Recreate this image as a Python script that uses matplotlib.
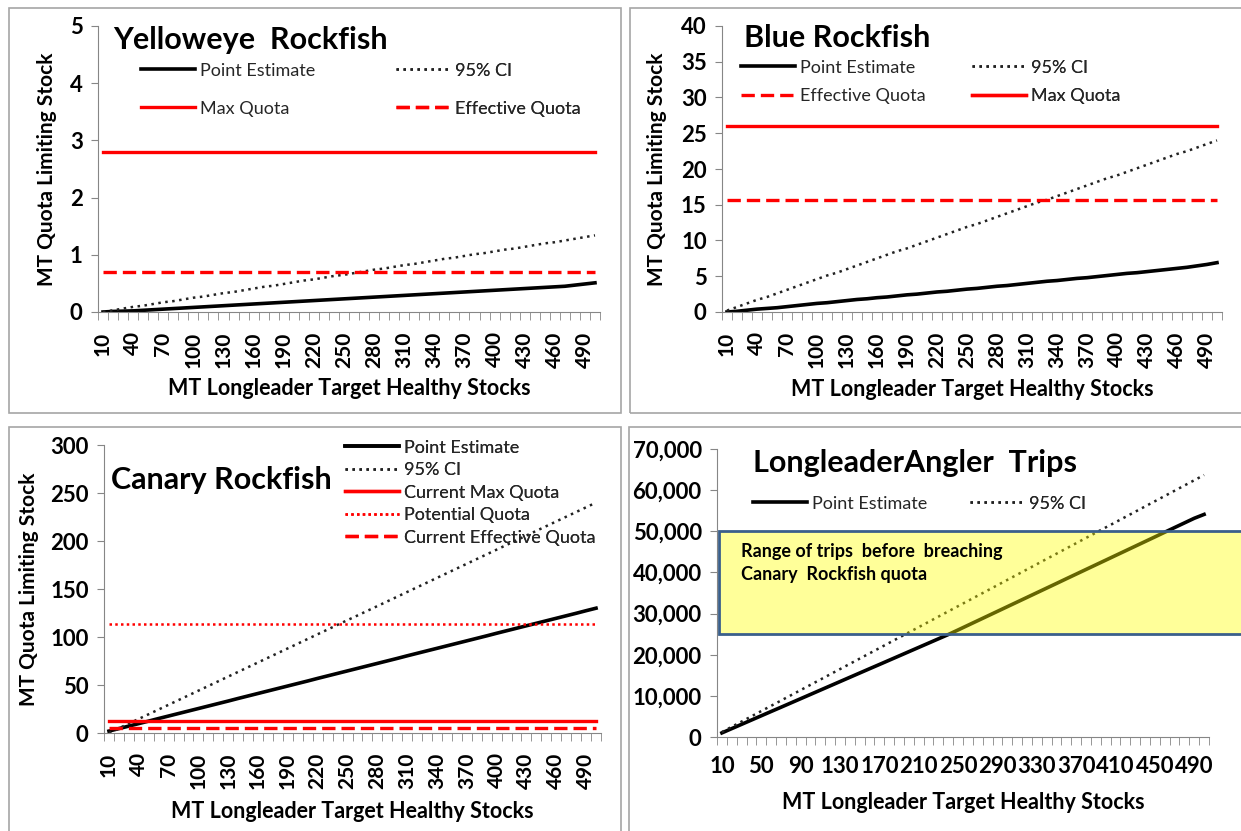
import matplotlib
matplotlib.use('Agg')
import matplotlib.pyplot as plt
import matplotlib.transforms as mtransforms
from matplotlib.patches import Rectangle
from matplotlib.lines import Line2D
from matplotlib.ticker import FuncFormatter

plt.rcParams['font.family'] = ['Lato', 'DejaVu Sans']

# x categories: MT of longleader target healthy stocks
categories = list(range(10, 510, 10))

# Yelloweye rockfish (MT)
yelloweye_point = [0.00, 0.01, 0.015, 0.02, 0.03, 0.04, 0.05, 0.06, 0.07, 0.08,
                   0.09, 0.10, 0.11, 0.12, 0.13, 0.14, 0.15, 0.16, 0.17, 0.18,
                   0.19, 0.20, 0.21, 0.22, 0.23, 0.24, 0.25, 0.26, 0.27, 0.28,
                   0.29, 0.30, 0.31, 0.32, 0.33, 0.34, 0.35, 0.36, 0.37, 0.38,
                   0.39, 0.40, 0.41, 0.42, 0.43, 0.44, 0.45, 0.47, 0.49, 0.51]
yelloweye_ci = [0.00, 0.03, 0.06, 0.09, 0.11, 0.14, 0.17, 0.19, 0.22, 0.25,
                0.27, 0.30, 0.33, 0.35, 0.38, 0.41, 0.44, 0.46, 0.49, 0.52,
                0.55, 0.57, 0.60, 0.63, 0.65, 0.68, 0.71, 0.74, 0.76, 0.79,
                0.82, 0.84, 0.87, 0.90, 0.93, 0.95, 0.98, 1.01, 1.03, 1.06,
                1.09, 1.11, 1.14, 1.17, 1.20, 1.22, 1.25, 1.28, 1.31, 1.34]
yelloweye_max_quota = 2.8
yelloweye_effective_quota = 0.7

# Blue rockfish (MT)
blue_point = [0.0, 0.1, 0.25, 0.4, 0.5, 0.6, 0.75, 0.9, 1.05, 1.2,
              1.3, 1.45, 1.6, 1.75, 1.85, 2.0, 2.1, 2.25, 2.4, 2.5,
              2.65, 2.8, 2.9, 3.05, 3.2, 3.3, 3.45, 3.6, 3.7, 3.85,
              4.0, 4.15, 4.3, 4.4, 4.55, 4.7, 4.8, 4.95, 5.1, 5.25,
              5.4, 5.5, 5.65, 5.8, 5.95, 6.1, 6.25, 6.45, 6.65, 6.9]
blue_ci = [0.2, 0.7, 1.2, 1.7, 2.1, 2.6, 3.1, 3.6, 4.1, 4.6,
           5.1, 5.5, 6.0, 6.5, 7.0, 7.5, 8.0, 8.5, 8.9, 9.4,
           9.9, 10.4, 10.9, 11.4, 11.9, 12.3, 12.8, 13.3, 13.8, 14.3,
           14.8, 15.3, 15.7, 16.2, 16.7, 17.2, 17.7, 18.2, 18.7, 19.1,
           19.6, 20.1, 20.6, 21.1, 21.6, 22.1, 22.5, 23.0, 23.5, 24.0]
blue_effective_quota = 15.7
blue_max_quota = 26.0

# Canary rockfish (MT)
canary_point = [2.0, 4.6, 7.2, 9.8, 12.4, 15.1, 17.7, 20.3, 22.9, 25.5,
                28.1, 30.7, 33.3, 36.0, 38.6, 41.2, 43.8, 46.4, 49.0, 51.6,
                54.2, 56.9, 59.5, 62.1, 64.7, 67.3, 69.9, 72.5, 75.1, 77.7,
                80.4, 83.0, 85.6, 88.2, 90.8, 93.4, 96.0, 98.6, 101.2, 103.9,
                106.5, 109.1, 111.7, 114.3, 116.9, 119.5, 122.1, 124.7, 127.4, 130.0]
canary_ci = [0.0, 4.9, 9.8, 14.7, 19.6, 24.5, 29.4, 34.3, 39.2, 44.1,
             49.0, 53.9, 58.8, 63.7, 68.6, 73.5, 78.4, 83.3, 88.2, 93.1,
             98.0, 102.9, 107.8, 112.7, 117.6, 122.4, 127.3, 132.2, 137.1, 142.0,
             146.9, 151.8, 156.7, 161.6, 166.5, 171.4, 176.3, 181.2, 186.1, 191.0,
             195.9, 200.8, 205.7, 210.6, 215.5, 220.4, 225.3, 230.2, 235.1, 240.0]
canary_max_quota = 12.0
canary_potential_quota = 114.0
canary_effective_quota = 5.0

# Longleader angler trips
trips_point = [1000, 2040, 3080, 4120, 5160, 6200, 7230, 8270, 9310, 10350,
               11390, 12430, 13470, 14510, 15550, 16590, 17620, 18660, 19700, 20740,
               21780, 22820, 23860, 24900, 26020, 27150, 28280, 29410, 30540, 31670,
               32800, 33930, 35060, 36190, 37320, 38460, 39590, 40720, 41850, 42980,
               44110, 45240, 46370, 47500, 48630, 49770, 50900, 52030, 53160, 54100]
trips_ci = [1200, 2480, 3750, 5030, 6300, 7580, 8850, 10130, 11400, 12680,
            13950, 15230, 16500, 17780, 19050, 20330, 21600, 22880, 24150, 25430,
            26700, 27980, 29250, 30530, 31800, 33080, 34350, 35630, 36900, 38180,
            39450, 40730, 42000, 43280, 44550, 45830, 47100, 48380, 49650, 50930,
            52200, 53480, 54750, 56030, 57300, 58580, 59850, 61130, 62400, 63680]
trips_range = (25000, 50000)

W, H = 1241, 831
fig = plt.figure(figsize=(W / 100, H / 100), dpi=100)
GREY = '#868686'
LEG_FS = 13
TICK_FS = 16

point_style = dict(color='black', lw=2.6, ls='-')
ci_style = dict(color='#222222', lw=1.8, ls=(0, (1, 1.8)))
max_style = dict(color='red', lw=2.4, ls='-')
eff_style = dict(color='red', lw=2.4, ls=(0, (4, 1.8)))
pot_style = dict(color='red', lw=1.8, ls=(0, (1, 1.3)))


def px_axes(l, t, r, b):
    return fig.add_axes([l / W, 1 - b / H, (r - l) / W, (b - t) / H])


def border(l, t, r, b):
    fig.patches.append(Rectangle((l / W, 1 - b / H), (r - l) / W, (b - t) / H,
                                 transform=fig.transFigure, fill=False,
                                 edgecolor='#a6a6a6', lw=1.2))


def style(ax, ymax, ystep, every, rotate, xlab_y, ylab_x=None):
    n = len(categories)
    ax.set_xlim(-0.5, n - 0.5)
    ax.set_ylim(0, ymax)
    ax.set_yticks([i * ystep for i in range(int(round(ymax / ystep)) + 1)])
    idx = list(range(0, n, every))
    ax.set_xticks(idx)
    ax.set_xticklabels([str(categories[i]) for i in idx],
                       rotation=90 if rotate else 0)
    ax.set_xticks([i - 0.5 for i in range(n + 1)], minor=True)
    ax.tick_params(axis='x', which='major', length=0, pad=14 if rotate else 14,
                   labelsize=15 if rotate else TICK_FS)
    ax.tick_params(axis='x', which='minor', length=6, color=GREY)
    ax.tick_params(axis='y', length=5, color=GREY, pad=6, labelsize=TICK_FS)
    for lab in ax.get_xticklabels() + ax.get_yticklabels():
        lab.set_fontweight('bold')
    for s in ['top', 'right']:
        ax.spines[s].set_visible(False)
    for s in ['left', 'bottom']:
        ax.spines[s].set_color(GREY)
    ax.set_xlabel('MT Longleader Target Healthy Stocks', fontsize=15.5,
                  fontweight='bold', va='top')
    ax.xaxis.set_label_coords(0.5, xlab_y)
    if ylab_x is not None:
        ax.set_ylabel('MT Quota Limiting Stock', fontsize=15, fontweight='bold')
        ax.yaxis.set_label_coords(ylab_x, 0.5)


def legend_col(ax, styles, labels, x, y, spacing):
    handles = [Line2D([], [], **s) for s in styles]
    leg = ax.legend(handles, labels, loc='upper left', bbox_to_anchor=(x, y),
                    frameon=False, fontsize=LEG_FS, handlelength=3.0,
                    handletextpad=0.25, borderpad=0, borderaxespad=0,
                    labelspacing=spacing, labelcolor='#262626')
    ax.add_artist(leg)


def hline(ax, value, st):
    ax.plot(range(len(categories)), [value] * len(categories), **st)


xs = range(len(categories))

# Yelloweye rockfish
ax1 = px_axes(98, 26, 600, 312)
ax1.plot(xs, yelloweye_point, **point_style)
ax1.plot(xs, yelloweye_ci, **ci_style)
hline(ax1, yelloweye_max_quota, max_style)
hline(ax1, yelloweye_effective_quota, eff_style)
style(ax1, 5, 1, 3, True, -0.232, -0.082)
ax1.text(0.03, 0.951, 'Yelloweye  Rockfish', transform=ax1.transAxes,
         fontsize=22, fontweight='bold', va='center', ha='left')
legend_col(ax1, [point_style, max_style], ['Point Estimate', 'Max Quota'], 0.086, 0.872, 1.23)
legend_col(ax1, [ci_style, eff_style], ['95% CI', 'Effective Quota'], 0.594, 0.872, 1.23)

# Blue rockfish
ax2 = px_axes(722, 26, 1222, 312)
ax2.plot(xs, blue_point, **point_style)
ax2.plot(xs, blue_ci, **ci_style)
hline(ax2, blue_max_quota, max_style)
hline(ax2, blue_effective_quota, eff_style)
style(ax2, 40, 5, 3, True, -0.235, -0.11)
ax2.text(0.044, 0.958, 'Blue Rockfish', transform=ax2.transAxes,
         fontsize=22, fontweight='bold', va='center', ha='left')
legend_col(ax2, [point_style, eff_style], ['Point Estimate', 'Effective Quota'], 0.038, 0.882, 0.68)
legend_col(ax2, [ci_style, max_style], ['95% CI', 'Max Quota'], 0.5, 0.882, 0.68)

# Canary rockfish
ax3 = px_axes(104, 445, 601, 733)
ax3.plot(xs, canary_point, **point_style)
ax3.plot(xs, canary_ci, **ci_style)
hline(ax3, canary_max_quota, max_style)
hline(ax3, canary_potential_quota, pot_style)
hline(ax3, canary_effective_quota, eff_style)
style(ax3, 300, 50, 3, True, -0.235, -0.131)
ax3.text(0.014, 0.878, 'Canary Rockfish', transform=ax3.transAxes,
         fontsize=22, fontweight='bold', va='center', ha='left')
legend_col(ax3, [point_style, ci_style, max_style, pot_style, eff_style],
           ['Point Estimate', '95% CI', 'Current Max Quota', 'Potential Quota',
            'Current Effective Quota'], 0.485, 1.018, 0.36)

# Longleader angler trips
ax4 = px_axes(717, 449, 1209, 737)
ax4.plot(xs, trips_point, **point_style)
ax4.plot(xs, trips_ci, **ci_style)
style(ax4, 70000, 10000, 4, False, -0.19)
ax4.yaxis.set_major_formatter(FuncFormatter(lambda v, p: f'{int(v):,}'))
for lab in ax4.get_yticklabels():
    lab.set_fontweight('bold')
ax4.text(0.073, 0.951, 'LongleaderAngler  Trips', transform=ax4.transAxes,
         fontsize=22, fontweight='bold', va='center', ha='left')
legend_col(ax4, [point_style], ['Point Estimate'], 0.073, 0.838, 0.3)
legend_col(ax4, [ci_style], ['95% CI'], 0.514, 0.838, 0.3)
blend = mtransforms.blended_transform_factory(ax4.transAxes, ax4.transData)
ax4.add_patch(Rectangle((0.004, trips_range[0]), 1.2, trips_range[1] - trips_range[0],
                        transform=blend, facecolor=(1, 1, 0, 0.4),
                        edgecolor='#3a5f8b', lw=2, clip_on=False, zorder=5))
ax4.text(0.049, 0.672, 'Range of trips  before  breaching\nCanary  Rockfish quota',
         transform=ax4.transAxes, fontsize=13, fontweight='bold', va='top',
         ha='left', linespacing=1.4, zorder=6)

# panel frames
border(9, 8, 621, 413)
border(630, 8, 1245, 413)
border(9, 427, 621, 835)
border(629, 427, 1245, 835)

fig.savefig('out.png', dpi=100)
